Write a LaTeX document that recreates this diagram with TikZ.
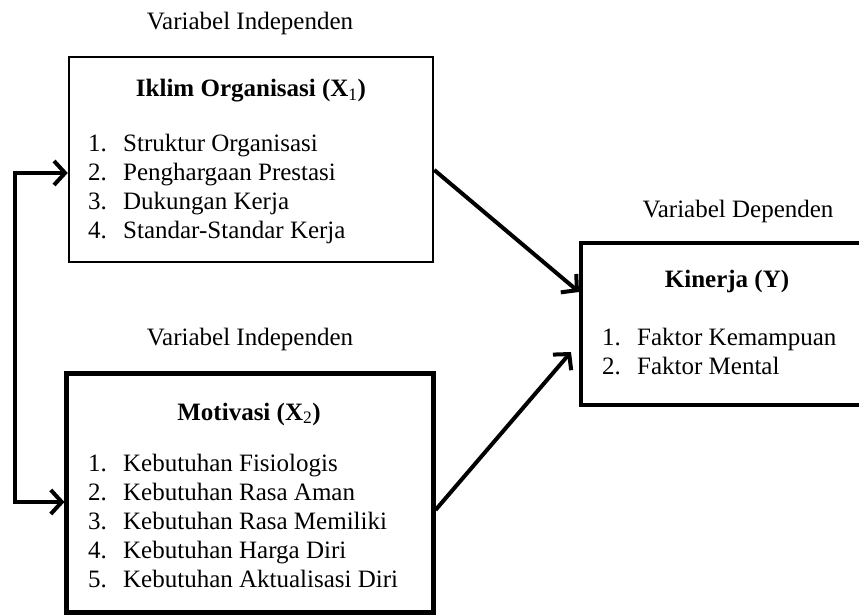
\documentclass[tikz,border=0pt]{standalone}
\usepackage{fontspec}
\setmainfont{Liberation Serif}
\usetikzlibrary{arrows.meta}
\tikzset{
  lbl/.style={anchor=base, inner sep=0pt, font=\fontsize{25bp}{29bp}\selectfont},
  ttl/.style={anchor=base, inner sep=0pt, font=\fontsize{25bp}{29bp}\selectfont\bfseries},
  itm/.style={anchor=base west, inner sep=0pt, font=\fontsize{25bp}{29bp}\selectfont},
  box/.style={draw=black, fill=none, inner sep=0pt},
  arr/.style={line width=4bp, -{Straight Barb[length=11bp,width=24bp]}},
  biarr/.style={line width=4bp, {Straight Barb[length=11bp,width=24bp]}-{Straight Barb[length=11bp,width=24bp]}}
}
\newcommand{\numitem}[2]{\makebox[35bp][l]{#1}#2}
\begin{document}
\begin{tikzpicture}[x=1bp,y=-1bp]
\useasboundingbox (0,0) rectangle (859,615);
\clip (0,0) rectangle (859,615);
% boxes
\node[box, line width=2.5bp, minimum width=364bp, minimum height=205bp] (b1) at (251,159.5) {};
\node[box, line width=5bp, minimum width=366bp, minimum height=239bp] (b2) at (250,492.5) {};
\node[box, line width=4bp, minimum width=300bp, minimum height=162bp] (b3) at (731,324) {};
% labels
\node[lbl] (l1) at (250,30) {Variabel Independen};
\node[lbl] (l2) at (250,345) {Variabel Independen};
\node[lbl] (l3) at (738,218) {Variabel Dependen};
% titles
\node[ttl] (t1) at (251,97) {Iklim Organisasi (X\textsubscript{\mdseries 1})};
\node[ttl] (t2) at (249,420) {Motivasi (X\textsubscript{\mdseries 2})};
\node[ttl] (t3) at (727,287) {Kinerja (Y)};
% items
\foreach \t [count=\i] in {Struktur Organisasi, Penghargaan Prestasi, Dukungan Kerja, Standar-Standar Kerja}
  \node[itm] (a\i) at (88,123+29*\i) {\numitem{\i.}{\t}};
\foreach \t [count=\i] in {Kebutuhan Fisiologis, Kebutuhan Rasa Aman, Kebutuhan Rasa Memiliki, Kebutuhan Harga Diri, Kebutuhan Aktualisasi Diri}
  \node[itm] (m\i) at (88,442+29*\i) {\numitem{\i.}{\t}};
\foreach \t [count=\i] in {Faktor Kemampuan, Faktor Mental}
  \node[itm] (k\i) at (602,316+29*\i) {\numitem{\i.}{\t}};
% connectors
\coordinate (fbx) at (15,0);
\coordinate (tip2) at (571,352);
\draw[biarr] (b1.west |- 0,173) -- (fbx |- 0,173) -- (fbx |- 0,502) -- (b2.west |- 0,502);
\draw[arr] (b1.east |- 0,170) -- (b3.west |- 0,292);
\draw[arr] (b2.east |- 0,510) -- (tip2);
\end{tikzpicture}
\end{document}
